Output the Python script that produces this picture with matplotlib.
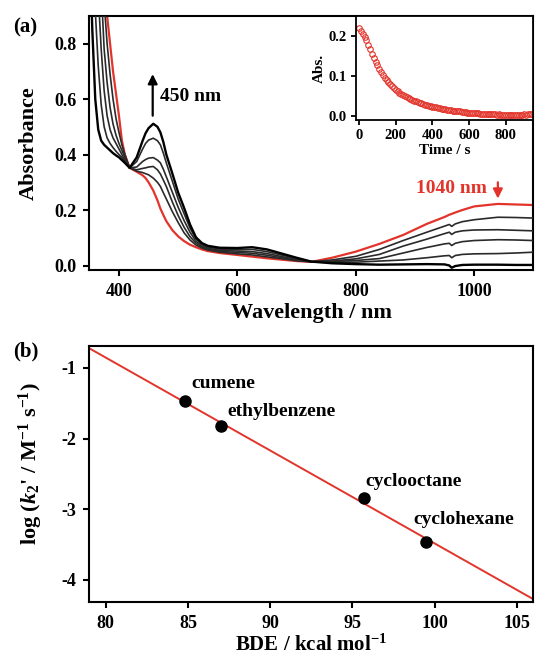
import numpy as np
import matplotlib
matplotlib.use("Agg")
import matplotlib.pyplot as plt

plt.rcParams['font.family'] = ['Liberation Serif', 'DejaVu Serif']
plt.rcParams['font.weight'] = 'bold'
plt.rcParams['axes.labelweight'] = 'bold'
plt.rcParams['axes.unicode_minus'] = False
plt.rcParams['mathtext.fontset'] = 'custom'
plt.rcParams['mathtext.rm'] = 'Liberation Serif:bold'
plt.rcParams['mathtext.it'] = 'Liberation Serif:italic:bold'
plt.rcParams['mathtext.bf'] = 'Liberation Serif:bold'

RED = '#e2342b'

# ---- panel (a): UV-vis-NIR spectra ----
wl = [350, 355, 360, 365, 370, 375, 380, 385, 390, 395, 400, 405, 410, 418,
      430, 440, 445, 450, 458, 465, 470, 475, 480, 490, 500, 510, 520, 530, 540, 550,
      570, 600, 625, 650, 680, 700, 725, 760, 800, 840, 880, 920, 950, 958,
      962, 968, 980, 1000, 1040, 1070, 1100]

# initial spectrum (red)
abs_red = [1.6, 1.4, 1.25, 1.12, 1.02, 0.96, 0.90, 0.80, 0.70, 0.62, 0.54, 0.45, 0.40, 0.352,
           0.338, 0.325, 0.315, 0.300, 0.270, 0.235, 0.205, 0.182, 0.160, 0.128, 0.105, 0.088, 0.075, 0.066, 0.058, 0.052,
           0.045, 0.038, 0.032, 0.026, 0.020, 0.016, 0.013, 0.028, 0.050, 0.078, 0.110, 0.150, 0.175, 0.183,
           0.186, 0.191, 0.200, 0.213, 0.222, 0.220, 0.218]

# spectral changes with time (black)
abs_b1 = [2.0, 1.8, 1.5, 1.3, 1.1, 0.95, 0.80, 0.69, 0.60, 0.53, 0.48, 0.435, 0.40, 0.352,
          0.340, 0.335, 0.331, 0.327, 0.315, 0.300, 0.285, 0.262, 0.240, 0.195, 0.155, 0.118, 0.092, 0.074, 0.063, 0.056,
          0.048, 0.042, 0.038, 0.031, 0.023, 0.017, 0.013, 0.020, 0.033, 0.058, 0.090, 0.120, 0.142, 0.148,
          0.141, 0.150, 0.158, 0.165, 0.174, 0.173, 0.171]
abs_b2 = [1.9, 1.6, 1.35, 1.15, 1.0, 0.78, 0.66, 0.57, 0.51, 0.47, 0.44, 0.415, 0.39, 0.352,
          0.345, 0.350, 0.352, 0.355, 0.357, 0.345, 0.330, 0.308, 0.285, 0.230, 0.180, 0.138, 0.104, 0.081, 0.067, 0.059,
          0.051, 0.047, 0.044, 0.037, 0.026, 0.019, 0.014, 0.016, 0.024, 0.040, 0.070, 0.095, 0.115, 0.120,
          0.112, 0.120, 0.125, 0.128, 0.129, 0.127, 0.125]
abs_b3 = [1.7, 1.4, 1.15, 0.98, 0.78, 0.63, 0.54, 0.49, 0.46, 0.44, 0.42, 0.40, 0.38, 0.352,
          0.355, 0.375, 0.382, 0.387, 0.389, 0.380, 0.370, 0.347, 0.320, 0.265, 0.210, 0.162, 0.120, 0.088, 0.071, 0.062,
          0.055, 0.052, 0.050, 0.043, 0.030, 0.022, 0.014, 0.014, 0.018, 0.025, 0.045, 0.065, 0.078, 0.080,
          0.072, 0.080, 0.086, 0.090, 0.093, 0.092, 0.090]
abs_b4 = [1.5, 1.1, 0.92, 0.72, 0.58, 0.50, 0.46, 0.44, 0.425, 0.412, 0.40, 0.39, 0.375, 0.352,
          0.375, 0.420, 0.440, 0.452, 0.459, 0.450, 0.435, 0.405, 0.370, 0.305, 0.240, 0.187, 0.135, 0.096, 0.076, 0.066,
          0.059, 0.057, 0.058, 0.050, 0.035, 0.025, 0.014, 0.012, 0.012, 0.016, 0.020, 0.028, 0.035, 0.036,
          0.028, 0.036, 0.040, 0.042, 0.043, 0.045, 0.048]
abs_b5 = [1.2, 0.85, 0.60, 0.49, 0.45, 0.435, 0.425, 0.415, 0.405, 0.397, 0.39, 0.38, 0.37, 0.352,
          0.390, 0.450, 0.477, 0.495, 0.511, 0.500, 0.480, 0.445, 0.400, 0.333, 0.263, 0.208, 0.148, 0.102, 0.081, 0.071,
          0.064, 0.063, 0.066, 0.058, 0.040, 0.028, 0.014, 0.008, 0.005, 0.003, 0.004, 0.005, 0.004, 0.000,
          -0.008, -0.002, 0.002, 0.003, 0.003, 0.002, 0.002]

# inset: decay of the 1040 nm band
time_s = list(range(0, 950, 10))
abs_1040 = [0.221, 0.215, 0.207, 0.199, 0.190, 0.178, 0.168, 0.157, 0.146, 0.136,
            0.127, 0.119, 0.110, 0.102, 0.096, 0.090, 0.085, 0.080, 0.075, 0.070,
            0.066, 0.062, 0.058, 0.055, 0.052, 0.049, 0.047, 0.045, 0.042, 0.040,
            0.038, 0.036, 0.034, 0.032, 0.031, 0.029, 0.028, 0.026, 0.025, 0.024,
            0.023, 0.022, 0.021, 0.020, 0.019, 0.018, 0.017, 0.016, 0.015, 0.015,
            0.014, 0.013, 0.012, 0.012, 0.011, 0.011, 0.010, 0.009, 0.009, 0.008,
            0.008, 0.007, 0.007, 0.006, 0.006, 0.006, 0.005, 0.005, 0.005, 0.005,
            0.004, 0.004, 0.004, 0.004, 0.004, 0.003, 0.004, 0.003, 0.003, 0.003,
            0.003, 0.003, 0.003, 0.003, 0.003, 0.003, 0.003, 0.003, 0.003, 0.003,
            0.004, 0.003, 0.004, 0.004, 0.004]

# ---- panel (b): log k2' vs BDE ----
substrates = ['cumene', 'ethylbenzene', 'cyclooctane', 'cyclohexane']
bde = [84.8, 87.0, 95.7, 99.5]
logk = [-1.47, -1.82, -2.84, -3.47]
label_x = [85.2, 87.4, 95.8, 98.7]
label_y = [-1.22, -1.62, -2.61, -3.14]

fig = plt.figure(figsize=(5.35, 6.6), dpi=100)

def style(ax, lw=1.5, size=13, length=4.5, pad=5):
    for s in ax.spines.values():
        s.set_linewidth(lw)
    ax.tick_params(direction='out', length=length, width=lw, labelsize=size, pad=pad)

ax1 = fig.add_axes([0.167, 0.591, 0.830, 0.385])
ax1.plot(wl, abs_red, color=RED, lw=1.6, zorder=2)
for a in [abs_b1, abs_b2, abs_b3, abs_b4]:
    ax1.plot(wl, a, color='#2a2a2a', lw=1.2, zorder=3)
ax1.plot(wl, abs_b5, color='black', lw=1.7, zorder=3)
ax1.set_xlim(350, 1100)
ax1.set_ylim(-0.016, 0.9)
ax1.set_xticks([400, 600, 800, 1000])
ax1.set_yticks([0.0, 0.2, 0.4, 0.6, 0.8])
ax1.yaxis.set_major_formatter(matplotlib.ticker.FormatStrFormatter('%.1f'))
ax1.set_xlabel('Wavelength / nm', fontsize=16, labelpad=2)
ax1.set_ylabel('Absorbance', fontsize=16, labelpad=11)
style(ax1)

ax1.annotate('', xy=(457, 0.70), xytext=(457, 0.53),
             arrowprops=dict(arrowstyle='-|>', color='black', lw=1.6, mutation_scale=14))
ax1.text(469, 0.61, '450 nm', fontsize=14, va='center', ha='left')
ax1.annotate('', xy=(1040, 0.231), xytext=(1040, 0.31),
             arrowprops=dict(arrowstyle='-|>', color=RED, lw=1.6, mutation_scale=14))
ax1.text(1022, 0.279, '1040 nm', fontsize=14, va='center', ha='right', color=RED)
fig.text(0.024, 0.959, '(a)', fontsize=15, va='center', ha='left')

ins = fig.add_axes([0.665, 0.818, 0.332, 0.158])
ins.plot(time_s, abs_1040, 'o', mfc='none', mec=RED, ms=4, mew=0.8)
ins.set_xlim(-18, 950)
ins.set_ylim(-0.011, 0.252)
ins.set_xticks([0, 200, 400, 600, 800])
ins.set_yticks([0.0, 0.1, 0.2])
ins.yaxis.set_major_formatter(matplotlib.ticker.FormatStrFormatter('%.1f'))
ins.set_xlabel('Time / s', fontsize=11, labelpad=1)
ins.set_ylabel('Abs.', fontsize=11, labelpad=2)
style(ins, lw=1.3, size=10.5, length=3.5, pad=3)

ax2 = fig.add_axes([0.167, 0.088, 0.830, 0.388])
coef = np.polyfit(bde, logk, 1)
xs = np.array([79, 106])
ax2.plot(xs, np.polyval(coef, xs), color=RED, lw=1.4, zorder=2)
ax2.plot(bde, logk, 'o', color='black', ms=8, zorder=3)
for name, tx, ty in zip(substrates, label_x, label_y):
    ax2.text(tx, ty, name, fontsize=14, va='center', ha='left')
ax2.set_xlim(79, 106)
ax2.set_ylim(-4.31, -0.69)
ax2.set_xticks([80, 85, 90, 95, 100, 105])
ax2.set_yticks([-1, -2, -3, -4])
ax2.set_xlabel('BDE / kcal mol$^{-1}$', fontsize=15, labelpad=2)
ax2.set_ylabel("log ($k_2$' / M$^{-1}$ s$^{-1}$)", fontsize=16)
ax2.yaxis.set_label_coords(-0.10, 0.54)
style(ax2)
fig.text(0.025, 0.467, '(b)', fontsize=15, va='center', ha='left')

fig.savefig('out.png', dpi=100)
